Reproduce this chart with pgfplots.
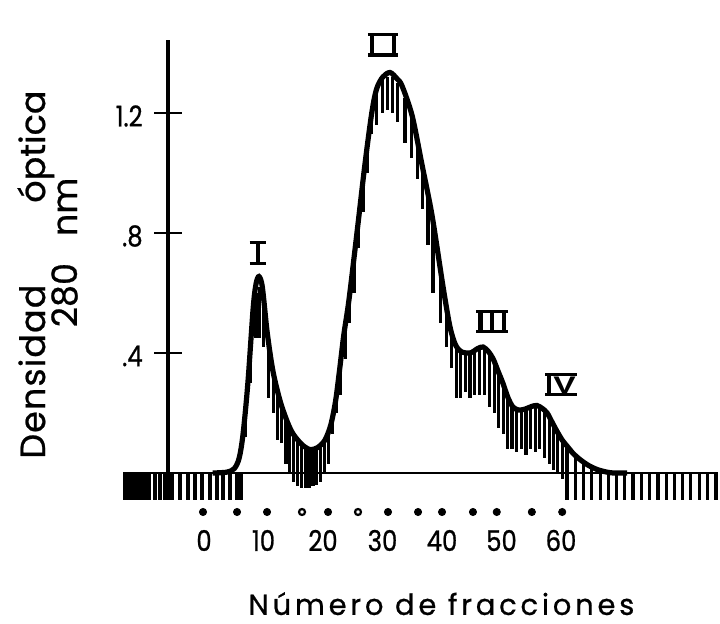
\documentclass[border=0pt]{standalone}
\usepackage{fontspec}
\setmainfont{Poppins}[FakeBold=0.7]
\newfontfamily\digfont{Poppins}[FakeStretch=0.85, FakeBold=0.8]
\newfontfamily\rnfont{Liberation Sans}
\usepackage{graphicx}
\usepackage{pgfplots}
\pgfplotsset{compat=1.18}
\usepackage{pgfplotstable}

% smooth curve: fraction number, optical density
\pgfplotstableread{
x y
1.45 0.0
3.88 0.003
5.10 0.015
5.91 0.05
6.56 0.13
7.37 0.30
8.26 0.55
8.74 0.63
9.23 0.655
9.80 0.62
10.61 0.47
11.58 0.34
12.79 0.24
14.01 0.17
14.98 0.13
16.44 0.095
17.82 0.078
19.11 0.085
20.33 0.11
21.30 0.16
22.11 0.24
22.76 0.34
23.49 0.46
24.38 0.58
25.76 0.81
27.05 1.03
28.19 1.20
29.00 1.28
30.05 1.32
31.26 1.335
32.40 1.315
33.29 1.29
34.99 1.19
36.61 1.03
38.31 0.86
40.18 0.62
41.31 0.49
42.20 0.43
43.17 0.405
44.71 0.40
46.01 0.415
46.90 0.42
47.79 0.405
48.60 0.38
49.41 0.34
50.22 0.30
51.11 0.25
51.92 0.22
52.89 0.21
53.95 0.213
55.08 0.222
55.97 0.225
56.86 0.215
57.67 0.20
58.48 0.17
59.29 0.14
60.19 0.11
61.00 0.09
62.05 0.065
63.18 0.045
64.64 0.025
66.02 0.012
67.47 0.004
68.77 0.0
71.12 0.0
}\curve

% vertical hatch strokes of the trace: x, lower end, upper end
\pgfplotstableread{
x lo hi
-13.28 -0.09 0
-12.77 -0.09 0
-12.27 -0.09 0
-11.77 -0.09 0
-11.26 -0.09 0
-10.76 -0.09 0
-10.25 -0.09 0
-9.75 -0.09 0
-9.24 -0.09 0
-8.24 -0.09 0
-7.39 -0.09 0
-6.55 -0.09 0
-5.38 -0.09 0
-4.03 -0.09 0
-2.69 -0.09 0
-1.51 -0.09 0
-0.34 -0.09 0
1.01 -0.09 0
2.18 -0.09 0
3.19 -0.09 0
4.37 -0.09 0
5.54 -0.09 0
6.22 -0.09 0
6.96 0.12 0.20
7.77 0.30 0.40
8.74 0.45 0.60
9.39 0.45 0.62
10.04 0.42 0.55
10.85 0.25 0.43
11.66 0.20 0.33
12.31 0.11 0.27
13.04 0.10 0.22
13.77 0.03 0.18
14.41 0.00 0.15
15.06 -0.03 0.12
15.71 -0.045 0.11
16.36 -0.05 0.095
17.01 -0.05 0.085
17.65 -0.05 0.078
18.30 -0.045 0.078
18.95 -0.04 0.08
19.60 -0.03 0.09
20.25 0.00 0.10
20.90 0.03 0.13
21.62 0.13 0.19
22.27 0.20 0.26
23.00 0.26 0.36
23.73 0.38 0.48
24.46 0.50 0.58
25.19 0.60 0.70
26.00 0.75 0.84
26.73 0.87 0.98
27.46 1.00 1.10
28.19 1.13 1.20
29.00 1.16 1.27
29.97 1.20 1.31
30.86 1.21 1.32
31.67 1.20 1.32
32.56 1.17 1.30
33.77 1.10 1.25
34.83 1.05 1.19
35.88 0.98 1.10
36.77 0.88 1.02
37.66 0.76 0.92
38.47 0.60 0.84
39.69 0.50 0.67
40.74 0.42 0.54
41.63 0.35 0.47
42.44 0.25 0.42
43.17 0.25 0.40
43.90 0.27 0.40
44.71 0.25 0.40
45.52 0.26 0.40
46.33 0.26 0.41
47.14 0.26 0.41
47.95 0.22 0.40
48.76 0.20 0.37
49.49 0.15 0.33
50.30 0.13 0.29
51.03 0.08 0.25
51.76 0.08 0.22
52.57 0.07 0.205
53.30 0.08 0.205
54.11 0.06 0.21
54.84 0.08 0.215
55.65 0.07 0.22
56.38 0.08 0.215
57.19 0.05 0.205
58.00 0.03 0.185
58.73 0.01 0.16
59.46 0.00 0.13
60.27 -0.02 0.10
61.00 -0.09 0.09
62.37 -0.09 0.06
63.75 -0.09 0.04
65.13 -0.09 0.02
66.58 -0.09 0.01
67.96 -0.09 0
69.34 -0.09 0
70.71 -0.09 0
72.09 -0.09 0
73.47 -0.09 0
74.93 -0.09 0
76.30 -0.09 0
77.68 -0.09 0
79.06 -0.09 0
80.44 -0.09 0
81.81 -0.09 0
83.27 -0.09 0
84.65 -0.09 0
86.03 -0.09 0
}\hatch

\newcommand\st{\vrule width 2.3pt height 8.6pt depth 0pt}
\newcommand\rn[1]{\vbox{\hrule height 1.6pt\hbox{#1}\hrule height 1.6pt}}

\begin{document}
\begin{tikzpicture}
\begin{axis}[
  x=2.975pt, y=150pt,
  xmin=-6.05, xmax=86.39, ymin=-0.09, ymax=1.443,
  axis x line=bottom, axis y line=left,
  axis line style={-},
  x axis line style={draw=none},
  y axis line style={line width=2pt},
  clip=false,
  xtick={0,10,20,30,40,50,60},
  xticklabels={0,10,20,30,40,50,60},
  xtick style={draw=none},
  ytick={0.4,0.8,1.2},
  yticklabels={.4,.8,1.2},
  ytick style={line width=1.4pt, black},
  major tick length=14pt, tick align=center,
  xticklabel style={font=\digfont\fontsize{14.3}{14.3}\selectfont, anchor=base, yshift=-18.5pt},
  yticklabel style={font=\digfont\fontsize{14.3}{14.3}\selectfont, anchor=east, inner sep=0pt, xshift=-5.5pt, yshift=-1.5pt},
]
\addplot[black, line width=1.3pt] coordinates {(-13.61,0) (86.39,0)};
\addplot[draw=none, mark=none,
  error bars/.cd, y dir=minus, y explicit, error mark=none,
  error bar style={line width=1.6pt, draw=black, solid}]
  table[x=x, y=hi, y error minus expr=\thisrow{hi}-\thisrow{lo}] {\hatch};
\addplot[black, line width=2.6pt, smooth, tension=0.5] table[x=x, y=y] {\curve};
\addplot[only marks, mark=*, mark size=1.8pt, black] coordinates {
 (-0.17,-0.13) (5.55,-0.13) (10.59,-0.13) (20.84,-0.13) (30.92,-0.13) (35.97,-0.13)
 (40.0,-0.13) (45.2,-0.13) (49.2,-0.13) (55.1,-0.13) (60.2,-0.13)};
\addplot[only marks, mark=*, mark size=1.5pt, black, fill=white, line width=1.1pt] coordinates {
 (16.47,-0.13) (25.88,-0.13)};

\node at (axis cs:9.08,0.733) {\rn{\kern3pt\st\kern3pt}};
\node at (axis cs:30.08,1.427) {\rn{\kern0.9pt\st\kern8.7pt\st\kern0.9pt}};
\node at (axis cs:48.4,0.505) {\rn{\kern0.8pt\st\kern3.6pt\st\kern3.6pt\st\kern0.8pt}};
\node at (axis cs:60.0,0.295) {\rn{\kern0.8pt\st\kern1.0pt\scalebox{1.4}[1]{\rnfont\fontsize{12}{12}\selectfont\bfseries V}\kern0.5pt}};

\node[rotate=90, anchor=base, font=\fontsize{17.5}{17.5}\selectfont\addfontfeatures{LetterSpace=3}] at (axis cs:-26.72,0.338) {Densidad};
\node[rotate=90, anchor=base, font=\fontsize{17.5}{17.5}\selectfont] at (axis cs:-26.72,1.088) {óptica};
\node[rotate=90, anchor=base, font=\fontsize{17.5}{17.5}\selectfont] at (axis cs:-21.34,0.593) {280};
\node[rotate=90, anchor=base, font=\fontsize{17.5}{17.5}\selectfont] at (axis cs:-21.34,0.887) {nm};
\node[anchor=base, font=\fontsize{14.5}{14.5}\selectfont\addfontfeatures{LetterSpace=13}] at (axis cs:39.9,-0.473) {Número de fracciones};

\coordinate (bbA) at (axis cs:-34.29,1.5767);
\coordinate (bbB) at (axis cs:86.72,-0.5033);
\end{axis}
\pgfresetboundingbox
\useasboundingbox (bbA) rectangle (bbB);
\end{tikzpicture}
\end{document}
